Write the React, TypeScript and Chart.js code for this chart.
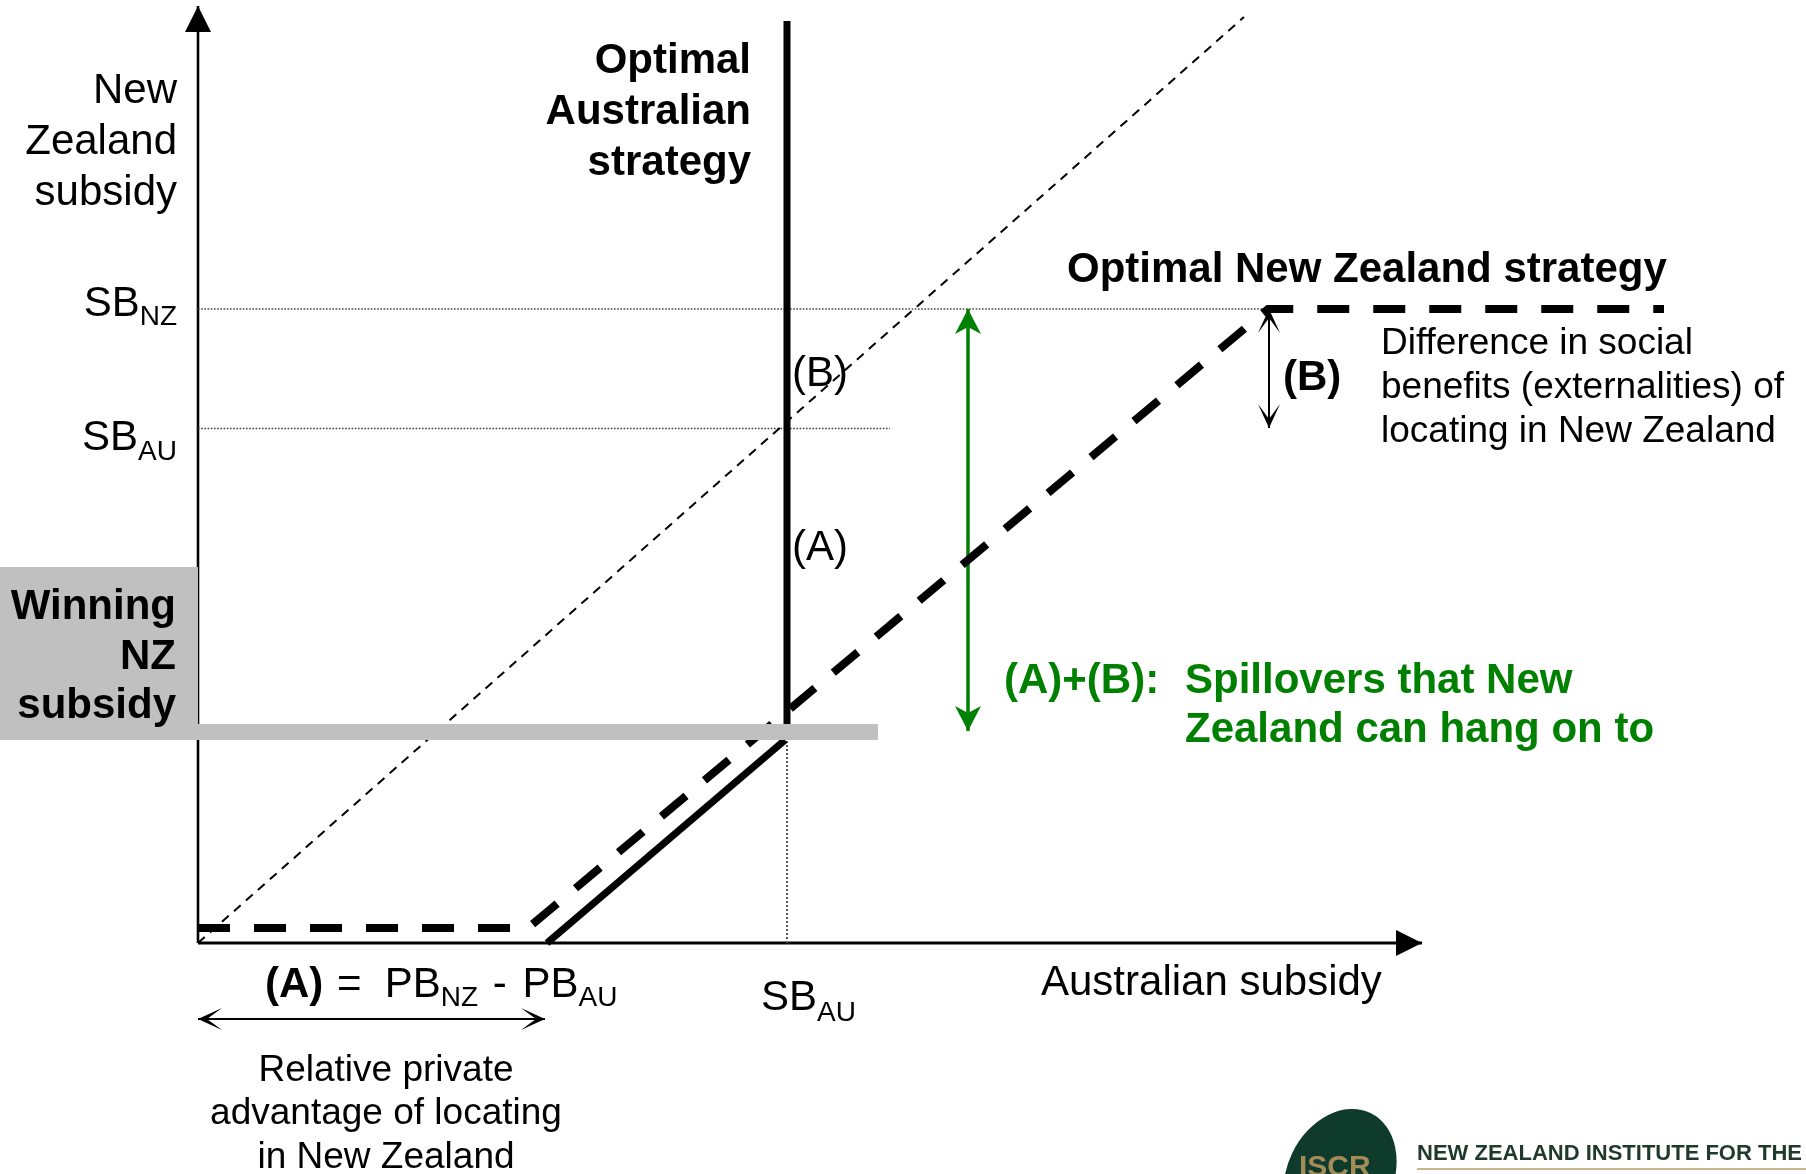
import React, { useEffect, useRef } from 'react';
import { Chart, registerables } from 'chart.js';

Chart.register(...registerables);

// ---- scale extents (subsidy units) ----
const X_RANGE = [-1.98, 16.08];
const Y_RANGE = [-2.31, 9.43];

// ---- axes ----
const xAxisX = [0, 12.24];
const xAxisY = [0, 0];
const yAxisX = [0, 0];
const yAxisY = [0, 9.37];

// ---- reference levels ----
const sbNzLineX = [0, 10.7];
const sbNzLineY = [6.34, 6.34];
const sbAuLineX = [0, 6.92];
const sbAuLineY = [5.145, 5.145];
const sbAuDropX = [5.89, 5.89];
const sbAuDropY = [0, 2.03];
const equalLineX = [0, 10.46];
const equalLineY = [0, 9.26];

// ---- strategies ----
const auStrategyX = [5.89, 5.89];
const auStrategyY = [2.19, 9.22];
const auResponseX = [3.49, 5.87];
const auResponseY = [0, 2.03];
const nzStrategyX = [0, 3.3, 10.7, 14.66];
const nzStrategyY = [0.15, 0.15, 6.34, 6.34];

// ---- gap arrows ----
const spilloverX = [7.7, 7.7];
const spilloverY = [6.34, 2.12];
const gapBX = [10.71, 10.71];
const gapBY = [6.34, 5.15];
const gapAX = [0, 3.47];
const gapAY = [-0.76, -0.76];

// ---- winning subsidy band ----
const winningBarX = [0, 6.8];
const winningBarY = [2.03, 2.19];
const winningBoxX = [-1.98, 0];
const winningBoxY = [2.03, 3.76];

// ---- texts ----
const yAxisTitle = ['New', 'Zealand', 'subsidy'];
const auStrategyTitle = ['Optimal', 'Australian', 'strategy'];
const winningTitle = ['Winning', 'NZ', 'subsidy'];
const nzStrategyTitle = ['Optimal New Zealand strategy'];
const gapBNote = ['Difference in social', 'benefits (externalities) of', 'locating in New Zealand'];
const spilloverLead = ['(A)+(B):'];
const spilloverNote = ['Spillovers that New', 'Zealand can hang on to'];
const gapANote = ['Relative private', 'advantage of locating', 'in New Zealand'];
const xAxisTitle = ['Australian subsidy'];
const partB = ['(B)'];
const partA = ['(A)'];
const logoMark = ['ISCR'];
const logoName = ['NEW ZEALAND INSTITUTE FOR THE STUDY OF COMPETITION AND REGULATION'];

const FONT = '"Liberation Sans", Arial, Helvetica, sans-serif';
const GREEN = '#008000';

const pts = (xs: number[], ys: number[]) => xs.map((x, i) => ({ x, y: ys[i] }));

function line(data: { x: number; y: number }[], width: number, color: string, dash: number[] = [], arrow?: any) {
  return {
    data,
    showLine: true,
    borderColor: color,
    backgroundColor: color,
    borderWidth: width,
    borderDash: dash,
    pointRadius: 0,
    pointHoverRadius: 0,
    fill: false,
    tension: 0,
    arrow,
  } as any;
}

function head(ctx: CanvasRenderingContext2D, tip: any, from: any, len: number, half: number, notch: number, color: string) {
  const dx = tip.x - from.x;
  const dy = tip.y - from.y;
  const L = Math.hypot(dx, dy) || 1;
  const ux = dx / L, uy = dy / L;
  const nx = -uy, ny = ux;
  const bx = tip.x - ux * len, by = tip.y - uy * len;
  ctx.beginPath();
  ctx.moveTo(tip.x, tip.y);
  ctx.lineTo(bx + nx * half, by + ny * half);
  ctx.lineTo(tip.x - ux * (len - notch), tip.y - uy * (len - notch));
  ctx.lineTo(bx - nx * half, by - ny * half);
  ctx.closePath();
  ctx.fillStyle = color;
  ctx.fill();
}

type Part = { t: string; size: number; bold?: boolean; dy?: number; gap?: number };

function rich(ctx: CanvasRenderingContext2D, parts: Part[], x: number, y: number, align: 'left' | 'right' | 'center', color: string) {
  ctx.textAlign = 'left';
  ctx.textBaseline = 'alphabetic';
  ctx.fillStyle = color;
  const widths = parts.map((p) => {
    ctx.font = `${p.bold ? 'bold ' : ''}${p.size}px ${FONT}`;
    return ctx.measureText(p.t).width + (p.gap || 0);
  });
  const total = widths.reduce((a, b) => a + b, 0);
  let cx = align === 'left' ? x : align === 'right' ? x - total : x - total / 2;
  parts.forEach((p, i) => {
    ctx.font = `${p.bold ? 'bold ' : ''}${p.size}px ${FONT}`;
    ctx.fillText(p.t, cx + (p.gap || 0), y + (p.dy || 0));
    cx += widths[i];
  });
}

const textBlocks = [
  { lines: yAxisTitle, x: -0.21, y: 8.4, dy: 0.51, align: 'right', size: 42, bold: false, color: '#000' },
  { lines: auStrategyTitle, x: 5.53, y: 8.7, dy: 0.51, align: 'right', size: 42, bold: true, color: '#000' },
  { lines: winningTitle, x: -0.22, y: 3.24, dy: 0.495, align: 'right', size: 42, bold: true, color: '#000' },
  { lines: partB, x: 5.94, y: 5.57, dy: 0, align: 'left', size: 42, bold: false, color: '#000' },
  { lines: partA, x: 5.94, y: 3.83, dy: 0, align: 'left', size: 42, bold: false, color: '#000' },
  { lines: nzStrategyTitle, x: 8.69, y: 6.61, dy: 0, align: 'left', size: 42, bold: true, color: '#000' },
  { lines: partB, x: 10.85, y: 5.53, dy: 0, align: 'left', size: 42, bold: true, color: '#000' },
  { lines: gapBNote, x: 11.83, y: 5.89, dy: 0.44, align: 'left', size: 37, bold: false, color: '#000' },
  { lines: spilloverLead, x: 8.06, y: 2.5, dy: 0, align: 'left', size: 42, bold: true, color: GREEN },
  { lines: spilloverNote, x: 9.87, y: 2.5, dy: 0.49, align: 'left', size: 42, bold: true, color: GREEN },
  { lines: gapANote, x: 1.88, y: -1.38, dy: 0.433, align: 'center', size: 37, bold: false, color: '#000' },
  { lines: xAxisTitle, x: 8.43, y: -0.52, dy: 0, align: 'left', size: 42, bold: false, color: '#000' },
];

const overlay = {
  id: 'overlay',
  afterDatasetsDraw(chart: any) {
    const ctx: CanvasRenderingContext2D = chart.ctx;
    const sx = chart.scales.x, sy = chart.scales.y;
    const P = (x: number, y: number) => [sx.getPixelForValue(x), sy.getPixelForValue(y)];
    ctx.save();

    // winning band and label box
    ctx.fillStyle = '#c0c0c0';
    {
      const [x0, y0] = P(winningBoxX[0], winningBoxY[1]);
      const [x1, y1] = P(winningBoxX[1], winningBoxY[0]);
      ctx.fillRect(x0, y0, x1 - x0, y1 - y0);
      const [bx0, by0] = P(winningBarX[0], winningBarY[1]);
      const [bx1, by1] = P(winningBarX[1], winningBarY[0]);
      ctx.fillRect(bx0, by0, bx1 - bx0, by1 - by0);
    }

    // arrowheads
    chart.data.datasets.forEach((ds: any, i: number) => {
      if (!ds.arrow) return;
      const el = chart.getDatasetMeta(i).data;
      const a = ds.arrow;
      const n = el.length;
      if (a.end) head(ctx, el[n - 1], el[n - 2], a.len, a.half, a.notch, ds.borderColor);
      if (a.start) head(ctx, el[0], el[1], a.len, a.half, a.notch, ds.borderColor);
    });

    // text blocks
    textBlocks.forEach((b) => {
      b.lines.forEach((t, k) => {
        const [x, y] = P(b.x, b.y - k * b.dy);
        rich(ctx, [{ t, size: b.size, bold: b.bold }], x, y, b.align as any, b.color);
      });
    });

    // subscripted labels
    {
      let [x, y] = P(-0.21, 6.27);
      rich(ctx, [{ t: 'SB', size: 42 }, { t: 'NZ', size: 28, dy: 9 }], x, y, 'right', '#000');
      [x, y] = P(-0.21, 4.93);
      rich(ctx, [{ t: 'SB', size: 42 }, { t: 'AU', size: 28, dy: 10 }], x, y, 'right', '#000');
      [x, y] = P(5.63, -0.67);
      rich(ctx, [{ t: 'SB', size: 42 }, { t: 'AU', size: 28, dy: 11 }], x, y, 'left', '#000');
      [x, y] = P(0.67, -0.54);
      rich(
        ctx,
        [
          { t: '(A)', size: 42, bold: true },
          { t: ' =  PB', size: 42, gap: 2 },
          { t: 'NZ', size: 28, dy: 9 },
          { t: ' -', size: 42, gap: 3 },
          { t: ' PB', size: 42, gap: 4 },
          { t: 'AU', size: 28, dy: 9 },
        ],
        x,
        y,
        'left',
        '#000'
      );
    }

    // institute logo
    {
      const [cx, cy] = P(11.42, -2.33);
      ctx.save();
      ctx.translate(cx, cy);
      ctx.rotate(0.45);
      ctx.beginPath();
      ctx.ellipse(0, 0, 53, 70, 0, 0, Math.PI * 2);
      ctx.fillStyle = '#0e3b2c';
      ctx.fill();
      ctx.restore();
      let [x, y] = P(11.01, -2.33);
      ctx.font = `bold 30px ${FONT}`;
      ctx.fillStyle = '#a48c58';
      ctx.textAlign = 'left';
      ctx.textBaseline = 'alphabetic';
      ctx.fillText(logoMark[0], x, y, 75);
      [x, y] = P(12.19, -2.17);
      ctx.font = `bold 22px ${FONT}`;
      ctx.fillStyle = '#1f3a2c';
      ctx.fillText(logoName[0], x, y);
      const [lx, ly] = P(12.19, -2.25);
      ctx.fillStyle = '#c9b88f';
      ctx.fillRect(lx, ly, 500, 2);
    }

    ctx.restore();
  },
};

const axisHead = { end: true, len: 26, half: 13, notch: 0 };
const greenHead = { start: true, end: true, len: 25, half: 13, notch: 7 };
const thinHead = { start: true, end: true, len: 24, half: 11, notch: 15 };

export default function App() {
  const ref = useRef<HTMLCanvasElement>(null);
  useEffect(() => {
    const datasets = [
      line(pts(nzStrategyX, nzStrategyY), 8, '#000', [32, 24]),
      line(pts(auStrategyX, auStrategyY), 7, '#000'),
      line(pts(auResponseX, auResponseY), 7, '#000'),
      line(pts(spilloverX, spilloverY), 3.5, GREEN, [], greenHead),
      line(pts(gapBX, gapBY), 2, '#000', [], thinHead),
      line(pts(gapAX, gapAY), 2, '#000', [], thinHead),
      line(pts(equalLineX, equalLineY), 2, '#000', [9, 7]),
      line(pts(sbNzLineX, sbNzLineY), 1.3, '#444', [1.6, 1.6]),
      line(pts(sbAuLineX, sbAuLineY), 1.3, '#444', [1.6, 1.6]),
      line(pts(sbAuDropX, sbAuDropY), 2, '#555', [2, 2]),
      line(pts(xAxisX, xAxisY), 3, '#000', [], axisHead),
      line(pts(yAxisX, yAxisY), 2.6, '#000', [], axisHead),
    ];
    const chart = new Chart(ref.current as HTMLCanvasElement, {
      type: 'scatter',
      data: { datasets },
      options: {
        animation: false,
        responsive: false,
        events: [],
        layout: { padding: 0 },
        plugins: { legend: { display: false }, tooltip: { enabled: false } },
        scales: {
          x: { type: 'linear', min: X_RANGE[0], max: X_RANGE[1], display: false },
          y: { type: 'linear', min: Y_RANGE[0], max: Y_RANGE[1], display: false },
        },
      } as any,
      plugins: [overlay as any],
    });
    return () => chart.destroy();
  }, []);
  return (
    <canvas
      ref={ref}
      width={1806}
      height={1174}
      style={{ position: 'absolute', left: 0, top: 0, width: 1806, height: 1174, display: 'block', background: '#fff' }}
    />
  );
}
